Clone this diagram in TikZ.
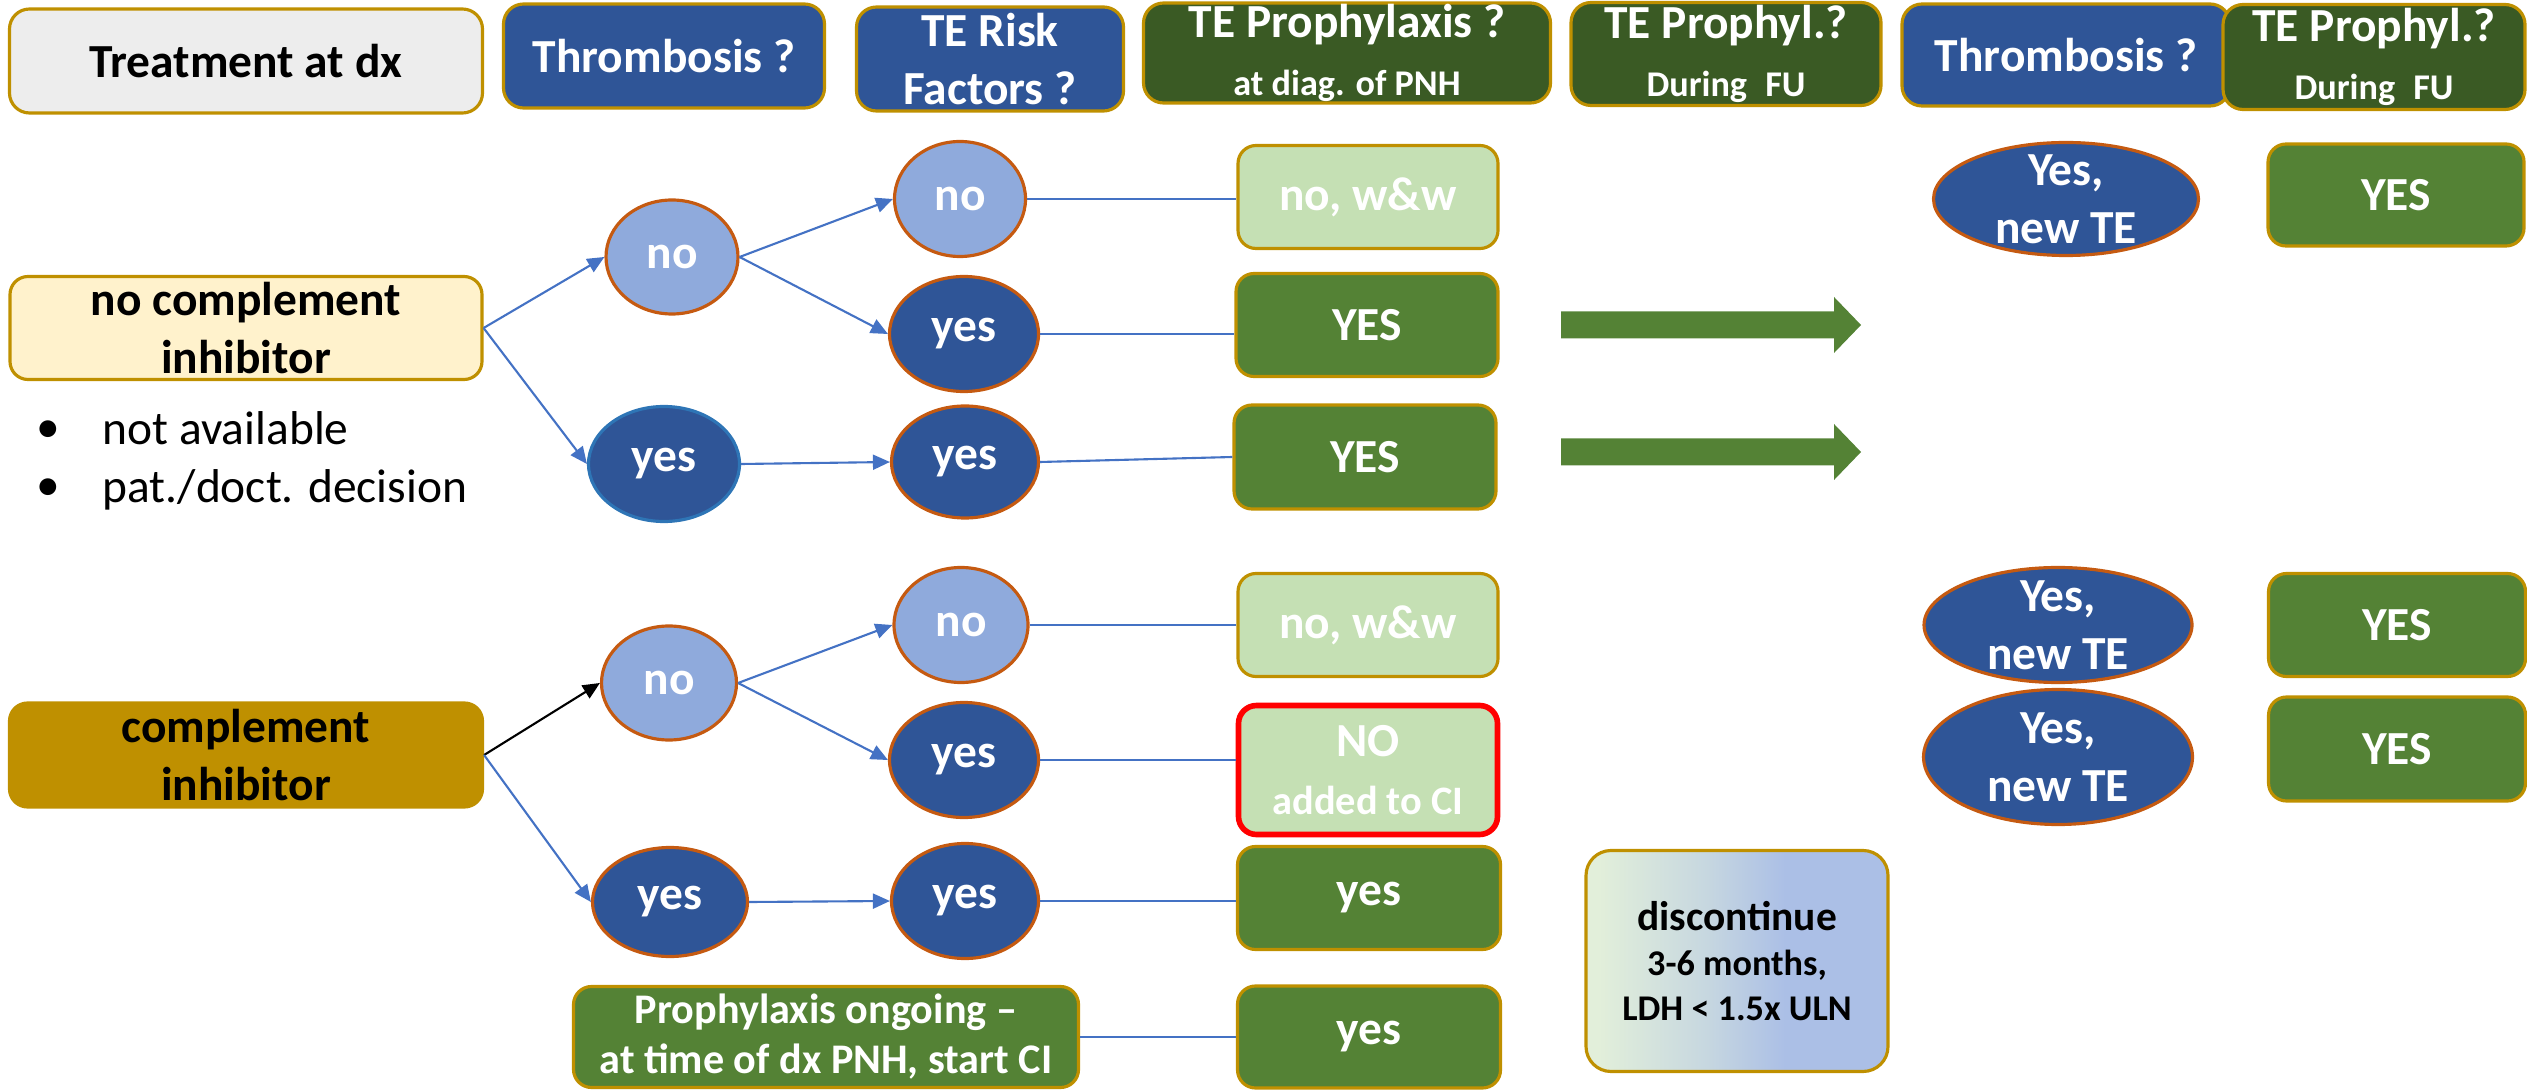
\documentclass[tikz,border=0pt]{standalone}
\usepackage{fontspec}
\setmainfont{Carlito}
\usetikzlibrary{shapes.geometric,arrows.meta}

\definecolor{gold}{HTML}{BF9000}
\definecolor{hdrgray}{HTML}{EDEDED}
\definecolor{navy}{HTML}{2F5597}
\definecolor{dkgreen}{HTML}{3A5A24}
\definecolor{midgreen}{HTML}{548235}
\definecolor{ltgreen}{HTML}{C5E0B4}
\definecolor{ltblue}{HTML}{8FAADC}
\definecolor{cream}{HTML}{FFF2CC}
\definecolor{rim}{HTML}{C55A11}
\definecolor{skyrim}{HTML}{2E75B6}
\definecolor{linkblue}{HTML}{4472C4}
\definecolor{gradL}{HTML}{E2EFDA}
\definecolor{gradR}{HTML}{ABBFE6}

\pgfdeclarehorizontalshading{discshade}{100bp}{color(0bp)=(gradL); color(27bp)=(gradL);
  color(45bp)=(gradL!50!gradR); color(58bp)=(gradR); color(100bp)=(gradR)}

\newcommand{\subtxt}[1]{{\fontsize{10.3}{12.8}\selectfont #1}}

\begin{document}
\begin{tikzpicture}[x=0.1mm, y=-0.1mm,
    hdr/.style={draw=gold, line width=0.9pt, rounded corners=2mm, inner sep=0pt,
      align=center, text=white, font=\fontsize{13.5}{16.5}\selectfont\bfseries},
    box/.style={draw=gold, line width=0.9pt, rounded corners=1.8mm, inner sep=0pt,
      align=center, text=white, font=\fontsize{13.5}{16.5}\selectfont\bfseries},
    circ/.style={ellipse, draw=rim, line width=0.9pt, inner xsep=0pt, inner ysep=-1.5mm,
      align=center, text=white, font=\fontsize{13.5}{16.5}\selectfont\bfseries},
    link/.style={draw=linkblue, line width=0.6pt},
    arr/.style={link, -{Triangle[length=1.7mm, width=1.5mm]}},
    blt/.style={font=\fontsize{13.5}{16.5}\selectfont, inner sep=0pt}]

\useasboundingbox (0,0) rectangle (2527,1091);

% Kopfzeile
\node[hdr, fill=hdrgray, text=black, minimum width=47.3mm, minimum height=10.4mm] (hTreat) at (246,61) {Treatment at dx};
\node[hdr, fill=navy, minimum width=32.1mm, minimum height=10.4mm] (hThrombA) at (664,56) {Thrombosis ?};
\node[hdr, fill=navy, minimum width=26.7mm, minimum height=10.4mm] (hRisk) at (990,59) {TE Risk\\Factors ?};
\node[hdr, fill=dkgreen, minimum width=40.7mm, minimum height=10.0mm] (hProphDx) at (1347,53) {TE Prophylaxis ?\\\subtxt{at diag. of PNH}};
\node[hdr, fill=dkgreen, minimum width=31mm, minimum height=10.3mm] (hProphFuA) at (1726,54) {TE Prophyl.?\\\subtxt{During\enspace FU}};
\node[hdr, fill=navy, minimum width=32.8mm, minimum height=10.2mm] (hThrombB) at (2066,55) {Thrombosis ?};
\node[hdr, fill=dkgreen, minimum width=30.2mm, minimum height=10.5mm] (hProphFuB) at (2374,57) {TE Prophyl.?\\\subtxt{During\enspace FU}};

% ohne Komplementinhibitor
\node[box, fill=cream, text=black, minimum width=47.2mm, minimum height=10.3mm] (noCI) at (246,328) {no complement\\inhibitor};
\node[blt] (bulA) at (48,432) {•};
\node[blt, anchor=base west] (txtA) at (102,445) {not available};
\node[blt] (bulB) at (48,490) {•};
\node[blt, anchor=base west] (txtB) at (102,503) {pat./doct. decision};

\node[circ, fill=ltblue, minimum width=13.2mm, minimum height=11.4mm] (thNoA) at (672,257) {no};
\node[circ, fill=navy, draw=skyrim, minimum width=15.1mm, minimum height=11.5mm] (thYesA) at (664,464) {yes};
\node[circ, fill=ltblue, minimum width=13.1mm, minimum height=11.5mm] (rfNoA) at (960,199) {no};
\node[circ, fill=navy, minimum width=14.9mm, minimum height=11.5mm] (rfYesA) at (964,334) {yes};
\node[circ, fill=navy, minimum width=14.7mm, minimum height=11.2mm] (rfYesB) at (965,462) {yes};

\node[box, fill=ltgreen, minimum width=26mm, minimum height=10.3mm] (prNoA) at (1368,197) {no, w\&w};
\node[box, fill=midgreen, minimum width=26.2mm, minimum height=10.3mm] (prYesA) at (1367,325) {YES};
\node[box, fill=midgreen, minimum width=26.2mm, minimum height=10.4mm] (prYesB) at (1365,457) {YES};

\node[circ, fill=navy, minimum width=26.5mm, minimum height=11.3mm] (newTeA) at (2066,199) {Yes,\\new TE};
\node[box, fill=midgreen, minimum width=25.6mm, minimum height=10.2mm] (fuYesA) at (2396,195) {YES};

\draw[arr] (noCI.east) -- (thNoA.west);
\draw[arr] (noCI.east) -- (thYesA.west);
\draw[arr] (thNoA.east) -- (rfNoA.west);
\draw[arr] (thNoA.east) -- (rfYesA.west);
\draw[arr] (thYesA.east) -- (rfYesB.west);
\draw[link] (rfNoA.east) -- (rfNoA.east -| prNoA.west);
\draw[link] (rfYesA.east) -- (rfYesA.east -| prYesA.west);
\draw[link] (rfYesB.east) -- (prYesB.west);

% Blockpfeile
\foreach \yc in {325,452}
  \fill[midgreen] (1561,\yc-13.5) -- (1834,\yc-13.5) -- (1834,\yc-28) -- (1861,\yc)
    -- (1834,\yc+28) -- (1834,\yc+13.5) -- (1561,\yc+13.5) -- cycle;

% mit Komplementinhibitor
\node[box, fill=gold, text=black, minimum width=47.3mm, minimum height=10.4mm] (withCI) at (246,755) {complement\\inhibitor};

\node[circ, fill=ltblue, minimum width=13.5mm, minimum height=11.4mm] (thNoB) at (669,683) {no};
\node[circ, fill=navy, minimum width=15.5mm, minimum height=10.9mm] (thYesB) at (670,902) {yes};
\node[circ, fill=ltblue, minimum width=13.4mm, minimum height=11.5mm] (rfNoB) at (961,625) {no};
\node[circ, fill=navy, minimum width=14.9mm, minimum height=11.5mm] (rfYesC) at (964,760) {yes};
\node[circ, fill=navy, minimum width=14.7mm, minimum height=11.5mm] (rfYesD) at (965,901) {yes};

\node[box, fill=ltgreen, minimum width=26mm, minimum height=10.3mm] (prNoB) at (1368,625) {no, w\&w};
\node[box, fill=ltgreen, draw=red, line width=1.6pt, minimum width=25.9mm, minimum height=12.9mm] (prNoCI) at (1368,770) {NO\\{\fontsize{11.5}{14}\selectfont added to CI}};
\node[box, fill=midgreen, minimum width=26.3mm, minimum height=10.3mm] (prYesC) at (1369,898) {yes};
\node[box, fill=midgreen, minimum width=26.3mm, minimum height=10.2mm] (prYesD) at (1369,1037) {yes};
\node[box, fill=midgreen, minimum width=50.5mm, minimum height=10.1mm,
  font=\fontsize{12}{14.2}\selectfont\bfseries] (ongoing) at (826,1037) {Prophylaxis ongoing –\\at time of dx PNH, start CI};

\node[box, shading=discshade, text=black, rounded corners=2.5mm, minimum width=30.2mm, minimum height=22.1mm,
  font=\fontsize{10.3}{12.8}\selectfont\bfseries] (disc) at (1737,961) {{\fontsize{11.8}{14}\selectfont discontinue}\\3-6 months,\\LDH < 1.5x ULN};

\node[circ, fill=navy, minimum width=26.8mm, minimum height=11.5mm] (newTeB) at (2058,625) {Yes,\\new TE};
\node[circ, fill=navy, minimum width=26.9mm, minimum height=13.5mm] (newTeC) at (2058,757) {Yes,\\new TE};
\node[box, fill=midgreen, minimum width=25.7mm, minimum height=10.3mm] (fuYesB) at (2397,625) {YES};
\node[box, fill=midgreen, minimum width=25.7mm, minimum height=10.4mm] (fuYesC) at (2397,749) {YES};

\draw[arr, draw=black] (withCI.east) -- (thNoB.west);
\draw[arr] (withCI.east) -- (thYesB.west);
\draw[arr] (thNoB.east) -- (rfNoB.west);
\draw[arr] (thNoB.east) -- (rfYesC.west);
\draw[arr] (thYesB.east) -- (rfYesD.west);
\draw[link] (rfNoB.east) -- (rfNoB.east -| prNoB.west);
\draw[link] (rfYesC.east) -- (rfYesC.east -| prNoCI.west);
\draw[link] (rfYesD.east) -- (rfYesD.east -| prYesC.west);
\draw[link] (ongoing.east) -- (ongoing.east -| prYesD.west);

\end{tikzpicture}
\end{document}
